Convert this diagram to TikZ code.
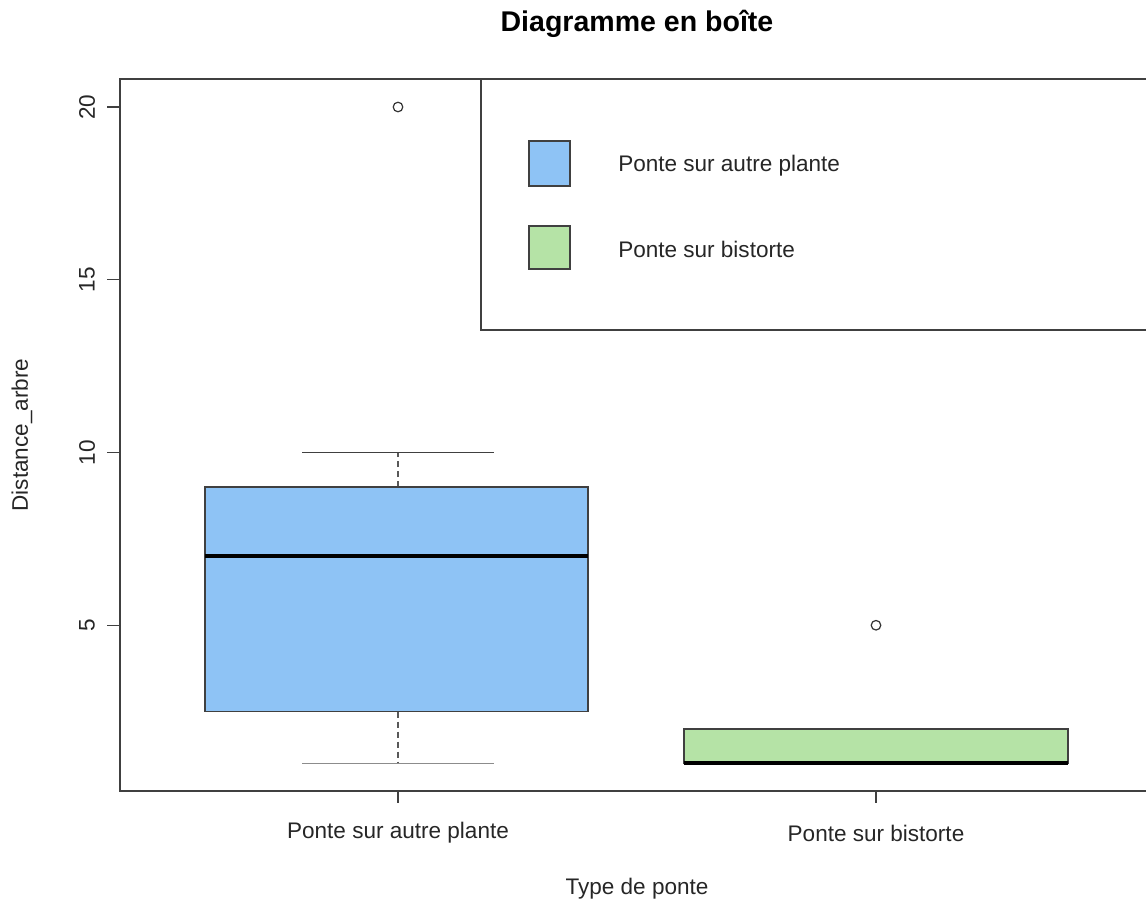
\documentclass[tikz,border=0pt]{standalone}
\usepackage{fontspec}
\setmainfont{Liberation Sans}
\usepackage{tikz}

\definecolor{boxblue}{RGB}{142,195,245}
\definecolor{boxgreen}{RGB}{181,227,166}

\begin{document}
\begin{tikzpicture}[x=0.75pt,y=-0.75pt,
    txt/.style={font=\fontsize{16.9}{20}\selectfont, inner sep=0pt, text=black!85},
    frame/.style={draw=black!75, line width=1.1pt},
    whisk/.style={draw=black!65, dash pattern=on 4.5pt off 3pt, line width=1.2pt},
    med/.style={draw=black, line width=3pt},
    outl/.style={draw=black!80, line width=0.9pt}]
\useasboundingbox (0,0) rectangle (1146,903);

\node[font=\bfseries\fontsize{21.4}{25}\selectfont, inner sep=0pt] (title) at (637,24) {Diagramme en boîte};

% plot frame (runs off the right edge)
\draw[frame] (1160,79) -- (120,79) -- (120,791) -- (1160,791);

% data part: x in px, y in data units
\begin{scope}[shift={(0,798)}, y=25.9125pt]
    \foreach \v in {5,10,15,20} {
        \draw[frame] (107,\v) -- (120,\v);
        \node[txt, rotate=90] (tick\v) at (87,\v) {\v};
    }

    % Ponte sur autre plante
    \draw[whisk] (398,9) -- (398,10);
    \draw[whisk] (398,2.5) -- (398,1);
    \draw[frame] (302,10) -- (494,10);
    \draw[frame, draw=black!45, line width=1.4pt] (302,1) -- (494,1);
    \draw[frame, fill=boxblue] (205,2.5) rectangle (588,9);
    \draw[med] (205,7) -- (588,7);
    \draw[outl] (398,20) circle[radius=3.6pt];

    % Ponte sur bistorte
    \draw[frame, fill=boxgreen] (684,1) rectangle (1068,2);
    \draw[med] (684,1) -- (1068,1);
    \draw[outl] (876,5) circle[radius=3.6pt];
\end{scope}

% x axis
\draw[frame] (398,791) -- (398,803);
\draw[frame] (876,791) -- (876,803);
\node[txt] (grp1) at (398,833) {Ponte sur autre plante};
\node[txt] (grp2) at (876,833) {Ponte sur bistorte};
\node[txt] (xlab) at (637,889) {Type de ponte};
\node[txt, rotate=90] (ylab) at (22,435) {Distance\_arbre};

% legend
\draw[frame, fill=white] (1160,79) -- (481,79) -- (481,330) -- (1160,330);
\draw[frame, fill=boxblue] (529,141) rectangle (570,186);
\draw[frame, fill=boxgreen] (529,226) rectangle (570,269);
\node[txt, anchor=west] (leg1) at (618,166) {Ponte sur autre plante};
\node[txt, anchor=west] (leg2) at (618,249) {Ponte sur bistorte};
\end{tikzpicture}
\end{document}
